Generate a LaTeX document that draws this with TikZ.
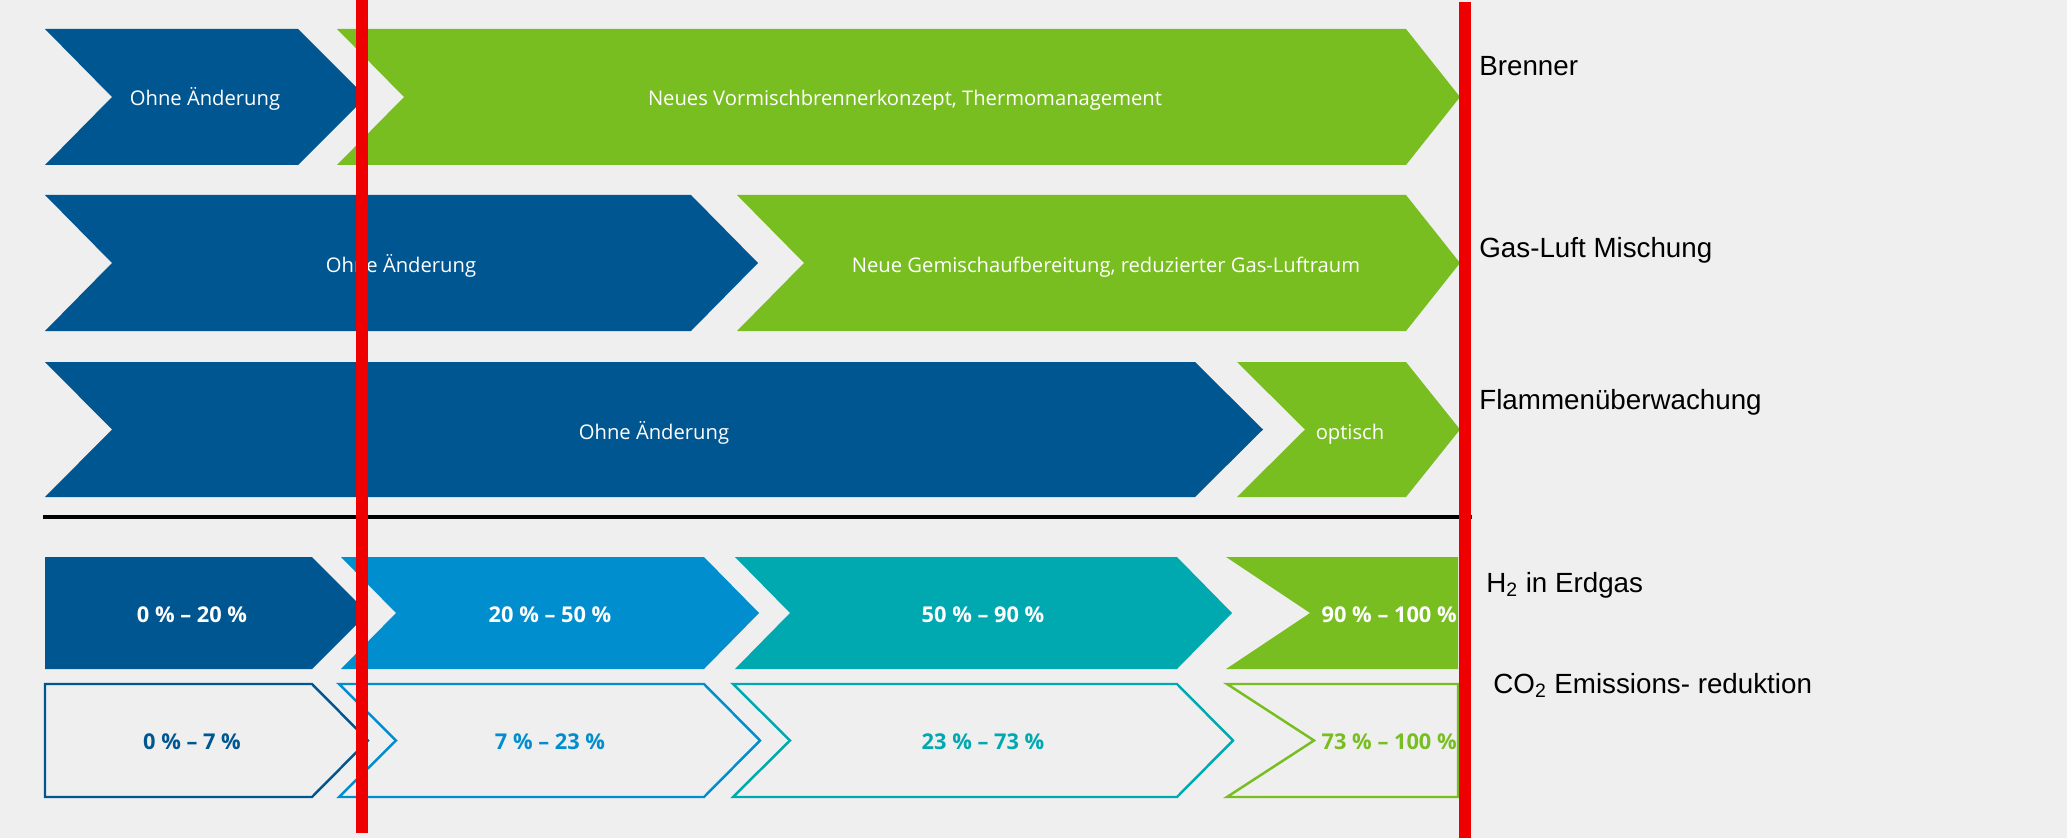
\documentclass[tikz,border=0pt]{standalone}
\usepackage{fontspec}
\setmainfont{Liberation Sans}
\newfontfamily\boschfont{Open Sans}
\usepackage{tikz}
\usetikzlibrary{positioning}

\definecolor{darkblue}{HTML}{005691}
\definecolor{lightblue}{HTML}{008ECF}
\definecolor{turq}{HTML}{00A8B0}
\definecolor{lightgreen}{HTML}{78BE20}
\definecolor{markred}{HTML}{EE0000}
\definecolor{bggray}{HTML}{EFEFEF}

% #1 style, #2 left, #3 notch, #4 shoulder, #5 tip, #6 top, #7 bottom
\newcommand{\chevpath}[7]{\path[#1] (#2,#6) -- (#4,#6) -- (#5,{(#6+#7)/2}) -- (#4,#7) -- (#2,#7) -- (#3,{(#6+#7)/2}) -- cycle;}

\tikzset{
  boxtext/.style={font=\boschfont\fontsize{11.5}{13}\selectfont, text=white, anchor=base, inner sep=0pt},
  rangetext/.style={font=\boschfont\bfseries\fontsize{12.4}{14}\selectfont, anchor=base, inner sep=0pt},
  sidetext/.style={font=\fontsize{15.8}{18}\selectfont, anchor=base west, inner sep=0pt},
  outline/.style={line width=1.4pt, line join=miter}
}

\begin{document}
\begin{tikzpicture}[x=0.02cm, y=-0.02cm]
        \useasboundingbox (0,0) rectangle (2067,838);
        \fill[bggray] (0,0) rectangle (2067,838);
        %row 1
        \chevpath{fill=darkblue}{45}{112}{298}{366}{29}{165}
        \chevpath{fill=lightgreen}{337}{404}{1406}{1460}{29}{165}
        \node[boxtext] (b1) at (205,106){Ohne Änderung};
        \node[boxtext] (g1) at (905,106){Neues Vormischbrennerkonzept, Thermomanagement};
        %row 2
        \chevpath{fill=darkblue}{45}{112}{691}{758}{195}{331}
        \chevpath{fill=lightgreen}{737}{804}{1406}{1460}{195}{331}
        \node[boxtext] (b2) at (401,272){Ohne Änderung};
        \node[boxtext] (g2) at (1106,272){Neue Gemischaufbereitung, reduzierter Gas-Luftraum};
        %row 3
        \chevpath{fill=darkblue}{45}{112}{1195}{1263}{362}{497}
        \chevpath{fill=lightgreen}{1237}{1305}{1406}{1460}{362}{497}
        \node[boxtext] (b3) at (654,439){Ohne Änderung};
        \node[boxtext] (g3) at (1350,439){optisch};
        %separator
        \draw[line width=2.2pt] (43,517) -- (1472,517);
        %h2 share
        \chevpath{fill=darkblue}{45}{45}{312}{368}{557}{669}
        \chevpath{fill=lightblue}{341}{396}{704}{759}{557}{669}
        \chevpath{fill=turq}{735}{790}{1177}{1232}{557}{669}
        \chevpath{fill=lightgreen}{1226}{1310}{1458}{1458}{557}{669}
        \node[rangetext, text=white] (h1) at (192,622){0 \% – 20 \%};
        \node[rangetext, text=white] (h2) at (550,622){20 \% – 50 \%};
        \node[rangetext, text=white] (h3) at (983,622){50 \% – 90 \%};
        \node[rangetext, text=white, anchor=base east] (h4) at (1457,622){90 \% – 100 \%};
        %co2 reduction
        \chevpath{draw=darkblue, outline}{45}{45}{312}{368}{684}{797}
        \chevpath{draw=lightblue, outline}{339}{396}{704}{760}{684}{797}
        \chevpath{draw=turq, outline}{733}{790}{1177}{1233}{684}{797}
        \chevpath{draw=lightgreen, outline}{1227}{1314}{1458}{1458}{684}{797}
        \node[rangetext, text=darkblue] (c1) at (192,749){0 \% – 7 \%};
        \node[rangetext, text=lightblue] (c2) at (550,749){7 \% – 23 \%};
        \node[rangetext, text=turq] (c3) at (983,749){23 \% – 73 \%};
        \node[rangetext, text=lightgreen, anchor=base east] (c4) at (1457,749){73 \% – 100 \%};
        %right labels
        \node[sidetext] (brenner) at (1479,76){Brenner};
        \node[sidetext] (mischung) at (1479,257){Gas-Luft Mischung};
        \node[sidetext] (flamme) at (1479,409){Flammenüberwachung};
        \node[sidetext] (h2gas) at (1486,592){H\textsubscript{2} in Erdgas};
        \node[sidetext] (co2) at (1493,693){CO\textsubscript{2} Emissions- reduktion};
        %markers
        \draw[markred, line width=6.8pt] (362,0) -- (362,833);
        \draw[markred, line width=6.8pt] (1465,2) -- (1465,838);
\end{tikzpicture}
\end{document}
